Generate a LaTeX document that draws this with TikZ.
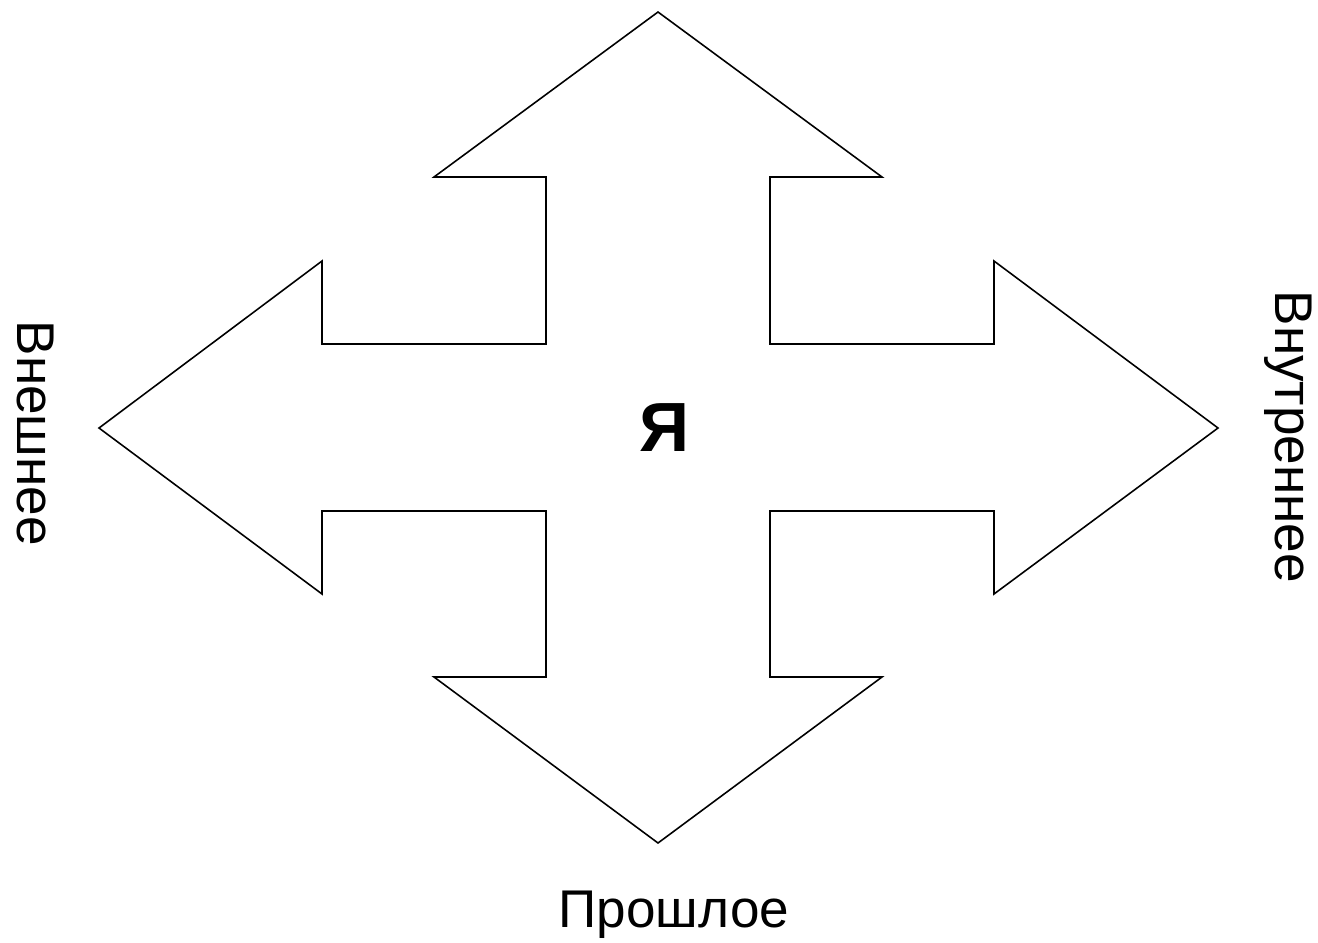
\documentclass[tikz,border=0pt]{standalone}
\usepackage{fontspec}
\setmainfont{Liberation Sans}
\usetikzlibrary{positioning}

\begin{document}
\begin{tikzpicture}[x=0.01cm,y=-0.01cm]
\tikzstyle{label} = [inner sep=0pt,font=\fontsize{15.1}{17}\selectfont]
\tikzstyle{ego} = [inner sep=0pt,font=\fontsize{19.8}{22}\selectfont\bfseries]

\useasboundingbox (0,0) rectangle (1318,942);

%Cross of four arrows around the centre
 \draw[line width=0.45pt] (658,12) -- (882,177) -- (770,177) -- (770,344) -- (994,344) -- (994,261)
   -- (1218,428) -- (994,594) -- (994,511) -- (770,511) -- (770,677) -- (882,677)
   -- (658,843) -- (434,677) -- (546,677) -- (546,511) -- (322,511) -- (322,594)
   -- (99,428) -- (322,261) -- (322,344) -- (546,344) -- (546,177) -- (434,177) -- cycle;

%Centre
 \node[ego] (ya) at (665,428) {Я};

%Labels at the ends of the arrows
 \node[label,rotate=-90,anchor=base west] (outer) at (18,320) {Внешнее};
 \node[label,rotate=-90,anchor=base west] (inner) at (1275,290) {Внутреннее};
 \node[label,anchor=base west] (past) at (558,927) {Прошлое};

\end{tikzpicture}
\end{document}
